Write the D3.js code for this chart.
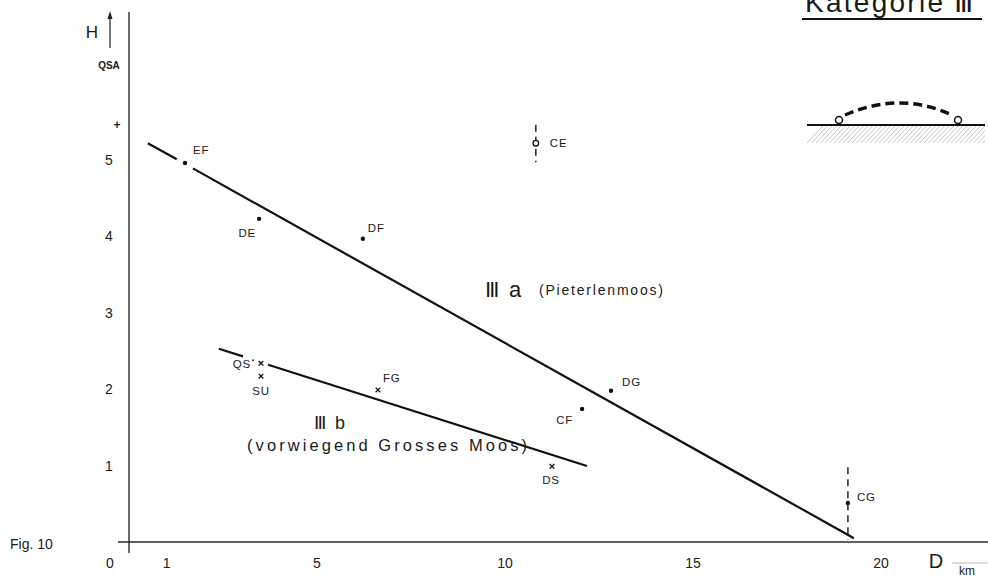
<!DOCTYPE html>
<html>
<head>
<meta charset="utf-8">
<script src="https://cdn.jsdelivr.net/npm/d3@7"></script>
<style>
  html, body { margin: 0; padding: 0; background: #fff; }
  svg { display: block; }
  text { font-family: "Liberation Sans", Arial, sans-serif; fill: #1a1a1a; }
</style>
</head>
<body>
<svg id="chart" width="988" height="576"></svg>
<script>
// ---------- data ----------
const xTickValues = [1, 5, 10, 15, 20];
const xTickLabels = ["1", "5", "10", "15", "20"];
const yTickValues = [1, 2, 3, 4, 5];
const yTickLabels = ["1", "2", "3", "4", "5"];

// dot stations
const dotNames = ["EF", "DE", "DF", "CF", "DG", "CG"];
const dotD     = [1.49, 3.46, 6.22, 12.05, 12.82, 19.12];
const dotH     = [4.96, 4.23, 3.97, 1.74, 1.98, 0.51];

// cross stations (Grosses Moos)
const crossNames = ["QS", "SU", "FG", "DS"];
const crossD     = [3.51, 3.51, 6.62, 11.25];
const crossH     = [2.34, 2.17, 1.99, 0.99];

// open circle station
const circleNames = ["CE"];
const circleD = [10.82];
const circleH = [5.22];

// dashed uncertainty ranges
const rangeNames = ["CE", "CG"];
const rangeD     = [10.82, 19.12];
const rangeLow   = [4.97, 0.03];
const rangeHigh  = [5.46, 0.98];

// regression lines (segments, with gap around labels)
const lineA_D = [[0.50, 1.27], [1.70, 19.28]];
const lineA_H = [[5.22, 5.01], [4.89, 0.05]];
const lineB_D = [[2.39, 3.03], [3.70, 12.18]];
const lineB_H = [[2.53, 2.43], [2.32, 0.995]];

// plus mark on H axis
const plusH = 5.46;

// ---------- scales ----------
const svg = d3.select("#chart");
const x = d3.scaleLinear().domain([0, 20]).range([129, 881]);
const y = d3.scaleLinear().domain([0, 5]).range([542, 160]);

// ---------- axes ----------
svg.append("line").attr("x1", 118).attr("x2", 988).attr("y1", y(0)).attr("y2", y(0))
  .attr("stroke", "#2a2a2a").attr("stroke-width", 1.4);
svg.append("line").attr("x1", x(0)).attr("x2", x(0)).attr("y1", 12).attr("y2", 553)
  .attr("stroke", "#2a2a2a").attr("stroke-width", 1.4);

// x tick labels
svg.append("g").selectAll("text").data(xTickValues).join("text")
  .attr("x", d => x(d)).attr("y", 568).attr("text-anchor", "middle")
  .attr("font-size", 14).text((d, i) => xTickLabels[i]);
svg.append("text").attr("x", 110).attr("y", 568).attr("text-anchor", "middle")
  .attr("font-size", 14).text("0");

// y tick labels
svg.append("g").selectAll("text").data(yTickValues).join("text")
  .attr("x", 109).attr("y", d => y(d) + 5).attr("text-anchor", "middle")
  .attr("font-size", 14).attr("font-family", "DejaVu Sans, sans-serif").text((d, i) => yTickLabels[i]);
svg.append("text").attr("x", 117).attr("y", y(plusH) + 4).attr("text-anchor", "middle")
  .attr("font-size", 12).attr("font-weight", "bold").text("+");

// axis titles
svg.append("text").attr("x", 92).attr("y", 38).attr("text-anchor", "middle")
  .attr("font-size", 17).attr("font-family", "DejaVu Sans, sans-serif").text("H");
svg.append("line").attr("x1", 110).attr("x2", 110).attr("y1", 14).attr("y2", 48)
  .attr("stroke", "#222").attr("stroke-width", 1.2);
svg.append("path").attr("d", "M110,11 L107.5,19 L112.5,19 Z").attr("fill", "#222");
svg.append("text").attr("x", 109).attr("y", 69).attr("text-anchor", "middle")
  .attr("font-size", 10).attr("font-weight", "bold").attr("font-family", "DejaVu Sans, sans-serif").text("QSA");

svg.append("text").attr("x", 936).attr("y", 568).attr("text-anchor", "middle")
  .attr("font-size", 20).attr("font-family", "Liberation Serif, serif").text("D");
svg.append("text").attr("x", 967).attr("y", 575).attr("text-anchor", "middle")
  .attr("font-size", 12).text("km");
svg.append("line").attr("x1", 952).attr("x2", 988).attr("y1", 563).attr("y2", 563)
  .attr("stroke", "#bbb").attr("stroke-width", 1);

svg.append("text").attr("x", 10).attr("y", 549).attr("font-size", 14).text("Fig. 10");

// ---------- regression lines ----------
const lineGen = d3.line().x(p => x(p[0])).y(p => y(p[1]));
function drawSegments(Ds, Hs) {
  Ds.forEach((seg, i) => {
    const pts = seg.map((d, j) => [d, Hs[i][j]]);
    svg.append("path").attr("d", lineGen(pts)).attr("fill", "none")
      .attr("stroke", "#111").attr("stroke-width", 2.2);
  });
}
drawSegments(lineA_D, lineA_H);
drawSegments(lineB_D, lineB_H);

// ---------- dashed ranges ----------
svg.append("g").selectAll("line").data(rangeD).join("line")
  .attr("x1", d => x(d)).attr("x2", d => x(d))
  .attr("y1", (d, i) => y(rangeHigh[i])).attr("y2", (d, i) => y(rangeLow[i]))
  .attr("stroke", "#222").attr("stroke-width", 1.5).attr("stroke-dasharray", "7,5");

// ---------- markers ----------
svg.append("g").selectAll("circle").data(dotD).join("circle")
  .attr("cx", d => x(d)).attr("cy", (d, i) => y(dotH[i])).attr("r", 2.2).attr("fill", "#111");

svg.append("g").selectAll("path").data(crossD).join("path")
  .attr("d", (d, i) => {
    const cx = x(d), cy = y(crossH[i]), s = 2.3;
    return `M${cx - s},${cy - s}L${cx + s},${cy + s}M${cx - s},${cy + s}L${cx + s},${cy - s}`;
  })
  .attr("stroke", "#111").attr("stroke-width", 1.3);

svg.append("g").selectAll("circle").data(circleD).join("circle")
  .attr("cx", d => x(d)).attr("cy", (d, i) => y(circleH[i])).attr("r", 2.8)
  .attr("fill", "#fff").attr("stroke", "#111").attr("stroke-width", 1.3);

// ---------- point labels ----------
const labelStyle = {
  EF: { dx: 8, dy: -9, anchor: "start" },
  DE: { dx: -3, dy: 18, anchor: "end" },
  DF: { dx: 5, dy: -7, anchor: "start" },
  CF: { dx: -9, dy: 15, anchor: "end" },
  DG: { dx: 11, dy: -5, anchor: "start" },
  CG: { dx: 9, dy: -2, anchor: "start" },
  QS: { dx: -10, dy: 5, anchor: "end" },
  SU: { dx: 0, dy: 19, anchor: "middle" },
  FG: { dx: 5, dy: -8, anchor: "start" },
  DS: { dx: -1, dy: 18, anchor: "middle" },
  CE: { dx: 14, dy: 4, anchor: "start" }
};
const allNames = dotNames.concat(crossNames, circleNames);
const allD = dotD.concat(crossD, circleD);
const allH = dotH.concat(crossH, circleH);
svg.append("g").selectAll("text").data(allNames).join("text")
  .attr("x", (n, i) => x(allD[i]) + labelStyle[n].dx)
  .attr("y", (n, i) => y(allH[i]) + labelStyle[n].dy)
  .attr("text-anchor", n => labelStyle[n].anchor)
  .attr("font-size", 11.5).attr("letter-spacing", 0.8)
  .attr("font-family", "DejaVu Sans, sans-serif").attr("fill", "#222")
  .text(n => n);
// little tick after QS
svg.append("circle").attr("cx", x(crossD[0]) - 8).attr("cy", y(crossH[0]) - 3).attr("r", 1).attr("fill", "#333");

// ---------- group annotations ----------
svg.append("text").attr("x", 485).attr("y", 297).attr("font-size", 21)
  .attr("font-family", "DejaVu Serif, serif").text("Ⅲ");
svg.append("text").attr("x", 509).attr("y", 297).attr("font-size", 22)
  .attr("font-family", "DejaVu Sans, sans-serif").text("a");
svg.append("text").attr("x", 539).attr("y", 295).attr("font-size", 14)
  .attr("font-family", "DejaVu Sans, sans-serif").attr("textLength", 124).text("(Pieterlenmoos)");

svg.append("text").attr("x", 314).attr("y", 429).attr("font-size", 18)
  .attr("font-family", "DejaVu Serif, serif").text("Ⅲ");
svg.append("text").attr("x", 335).attr("y", 429).attr("font-size", 18)
  .attr("font-family", "DejaVu Sans, sans-serif").text("b");
svg.append("text").attr("x", 247).attr("y", 451).attr("font-size", 16.5)
  .attr("font-family", "DejaVu Sans, sans-serif").attr("textLength", 280).text("(vorwiegend Grosses Moos)");

// ---------- category title & icon ----------
svg.append("text").attr("x", 805).attr("y", 12).attr("font-size", 28)
  .attr("font-family", "DejaVu Sans, sans-serif").attr("textLength", 138).text("Kategorie");
svg.append("text").attr("x", 954).attr("y", 12).attr("font-size", 28)
  .attr("font-family", "DejaVu Serif, serif").text("Ⅲ");
svg.append("line").attr("x1", 802).attr("x2", 982).attr("y1", 19).attr("y2", 19)
  .attr("stroke", "#111").attr("stroke-width", 2);

const icon = svg.append("g");
const hatch = d3.range(807, 990, 4.5);
icon.selectAll("line.h").data(hatch).join("line").attr("class", "h")
  .attr("x1", d => d).attr("y1", 143).attr("x2", d => d + 16).attr("y2", 126)
  .attr("stroke", "#aaa").attr("stroke-width", 0.7);
icon.append("rect").attr("x", 985).attr("y", 124).attr("width", 10).attr("height", 22).attr("fill", "#fff");
icon.append("line").attr("x1", 807).attr("x2", 985).attr("y1", 125).attr("y2", 125)
  .attr("stroke", "#111").attr("stroke-width", 1.8);
icon.append("path").attr("d", "M845,115 Q900,91 952,115").attr("fill", "none")
  .attr("stroke", "#111").attr("stroke-width", 3.5).attr("stroke-dasharray", "9,5");
icon.append("circle").attr("cx", 839).attr("cy", 120).attr("r", 3.5)
  .attr("fill", "#fff").attr("stroke", "#111").attr("stroke-width", 1.5);
icon.append("circle").attr("cx", 958).attr("cy", 120).attr("r", 3.5)
  .attr("fill", "#fff").attr("stroke", "#111").attr("stroke-width", 1.5);
</script>
</body>
</html>
